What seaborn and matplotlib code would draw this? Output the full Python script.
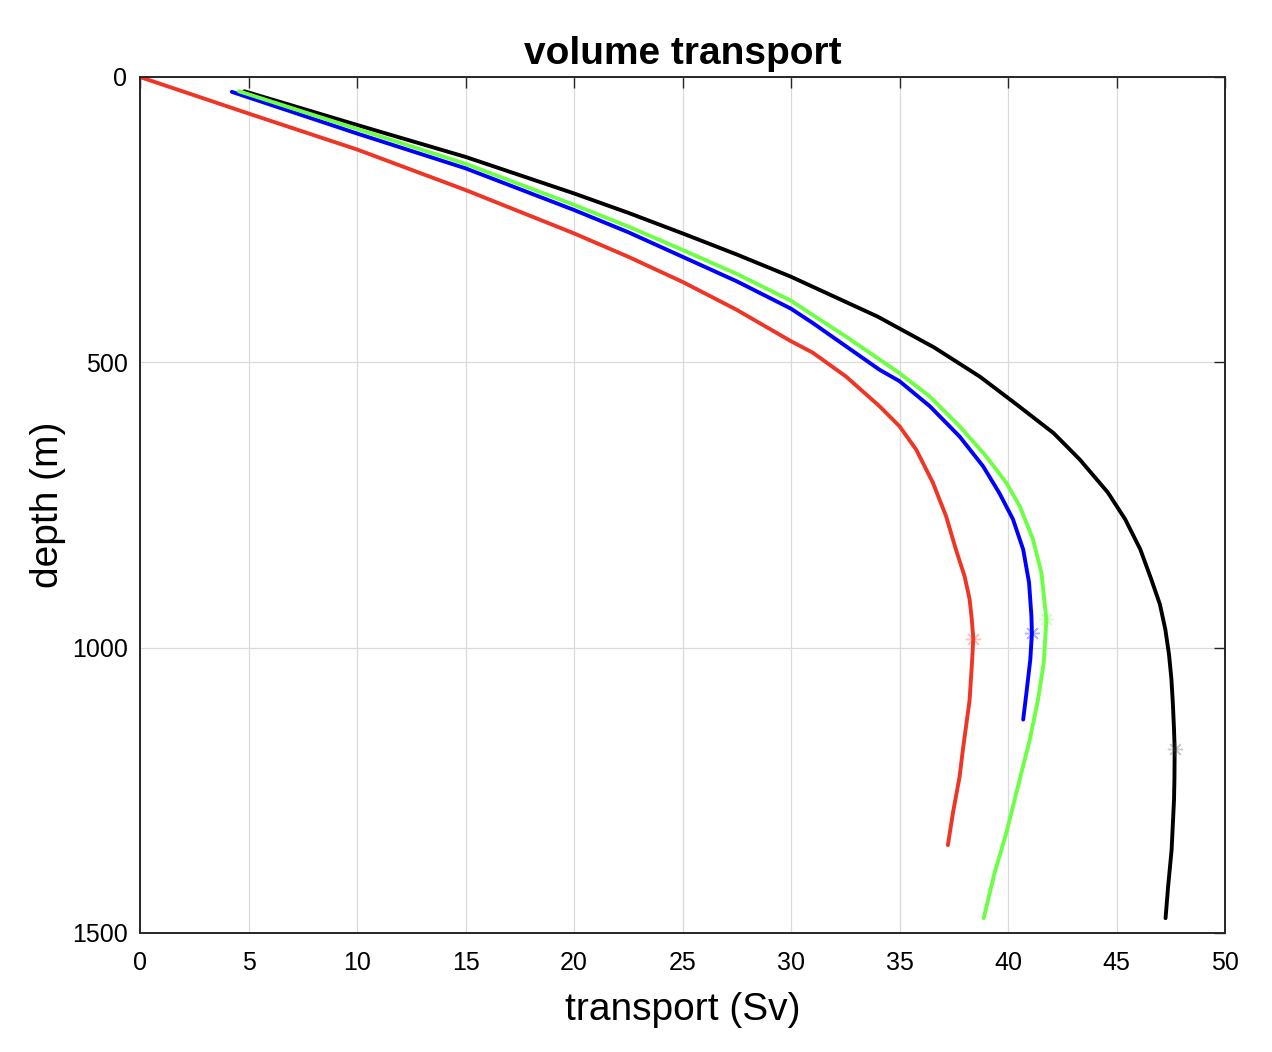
import numpy as np
import pandas as pd
import matplotlib
matplotlib.use("Agg")
import matplotlib.pyplot as plt
import seaborn as sns

# ---- data (transport in Sv vs depth in m) ----
red_depth = [0, 64, 127, 198, 274, 315, 359, 408, 463, 483, 525, 577, 612, 653, 711, 770, 828, 875, 915, 950, 984, 1020, 1092, 1179, 1226, 1290, 1346]
red_transport = [0, 5, 10, 15, 20, 22.5, 25, 27.5, 30, 31, 32.54, 34.08, 35, 35.77, 36.54, 37.15, 37.6, 38.0, 38.23, 38.33, 38.4, 38.35, 38.23, 37.92, 37.77, 37.46, 37.23]

blue_depth = [26, 99, 160, 233, 272, 315, 358, 406, 431, 472, 513, 533, 577, 630, 682, 729, 775, 828, 886, 945, 975, 1020, 1079, 1126]
blue_transport = [4.23, 10, 15, 20, 22.5, 25, 27.5, 30, 31, 32.54, 34.08, 35, 36.4, 37.77, 38.85, 39.6, 40.23, 40.7, 40.97, 41.08, 41.1, 41.03, 40.85, 40.7]

green_depth = [25, 91, 152, 224, 262, 303, 345, 392, 417, 455, 495, 519, 560, 612, 665, 711, 752, 810, 869, 927, 950, 1026, 1092, 1162, 1243, 1325, 1395, 1474]
green_transport = [4.56, 10, 15, 20, 22.5, 25, 27.5, 30, 31, 32.54, 34.08, 35, 36.4, 37.77, 39.0, 39.92, 40.54, 41.15, 41.54, 41.7, 41.77, 41.65, 41.38, 41.0, 40.46, 39.92, 39.38, 38.88]

black_depth = [25, 84, 140, 204, 238, 274, 311, 350, 385, 420, 474, 525, 571, 624, 670, 728, 775, 828, 880, 924, 968, 1012, 1055, 1100, 1143, 1177, 1230, 1267, 1354, 1418, 1474]
black_transport = [4.81, 10, 15, 20, 22.5, 25, 27.5, 30, 32.0, 34.0, 36.6, 38.7, 40.3, 42.1, 43.3, 44.6, 45.4, 46.1, 46.6, 47.0, 47.25, 47.42, 47.53, 47.6, 47.65, 47.68, 47.67, 47.65, 47.54, 47.38, 47.26]

# maximum-transport markers (red, blue, green, black)
max_transport = [38.4, 41.1, 41.77, 47.68]
max_depth = [984, 975, 950, 1177]

series_names = ["black", "blue", "green", "red"]
series_colors = {"black": "#000000", "blue": "#0000FF", "green": "#6CFF45", "red": "#EE3526"}
marker_colors = ["#EE3526", "#0000FF", "#6CFF45", "#555555"]

x_ticks = [0, 5, 10, 15, 20, 25, 30, 35, 40, 45, 50]
y_ticks = [0, 500, 1000, 1500]

frames = []
for name, d, t in [("black", black_depth, black_transport),
                   ("blue", blue_depth, blue_transport),
                   ("green", green_depth, green_transport),
                   ("red", red_depth, red_transport)]:
    frames.append(pd.DataFrame({"depth": d, "transport": t, "series": name}))
df = pd.concat(frames, ignore_index=True)

sns.set_theme(style="white")
plt.rcParams['font.family'] = ['Liberation Sans', 'DejaVu Sans']
plt.rcParams['text.color'] = 'black'
plt.rcParams['axes.labelcolor'] = 'black'

fig = plt.figure(figsize=(12.72, 10.52), dpi=100)
ax = fig.add_axes([140 / 1272, 1 - 933 / 1052, (1225 - 140) / 1272, (933 - 77) / 1052])

for name in series_names:
    sub = df[df["series"] == name]
    sns.lineplot(data=sub, x="transport", y="depth", sort=False, estimator=None,
                 color=series_colors[name], linewidth=2.8, ax=ax, legend=False,
                 solid_capstyle="round", solid_joinstyle="round")

for xm, ym, c in zip(max_transport, max_depth, marker_colors):
    ax.plot([xm], [ym], marker=(8, 2, 0), markersize=11, color=c, alpha=0.3,
            linestyle="none", markeredgewidth=1.0)

ax.set_xlim(0, 50)
ax.set_ylim(1500, 0)
ax.set_xticks(x_ticks)
ax.set_yticks(y_ticks)
ax.grid(True, color="#dadada", linewidth=0.9)
ax.set_axisbelow(True)
for s in ax.spines.values():
    s.set_color("#262626")
    s.set_linewidth(1.4)
ax.tick_params(direction="in", length=8, width=1.0, top=True, right=True,
               labelsize=18, colors="#262626", labelcolor="black")
ax.tick_params(axis="x", pad=13)
ax.tick_params(axis="y", pad=9)

ax.set_xlabel("transport (Sv)", fontsize=28, labelpad=12, color="black")
ax.set_ylabel("depth (m)", fontsize=28, labelpad=4, color="black")
ax.set_title("volume transport", fontsize=28, fontweight="bold", pad=9, color="black")

fig.savefig("out.png", dpi=100, facecolor="white")
